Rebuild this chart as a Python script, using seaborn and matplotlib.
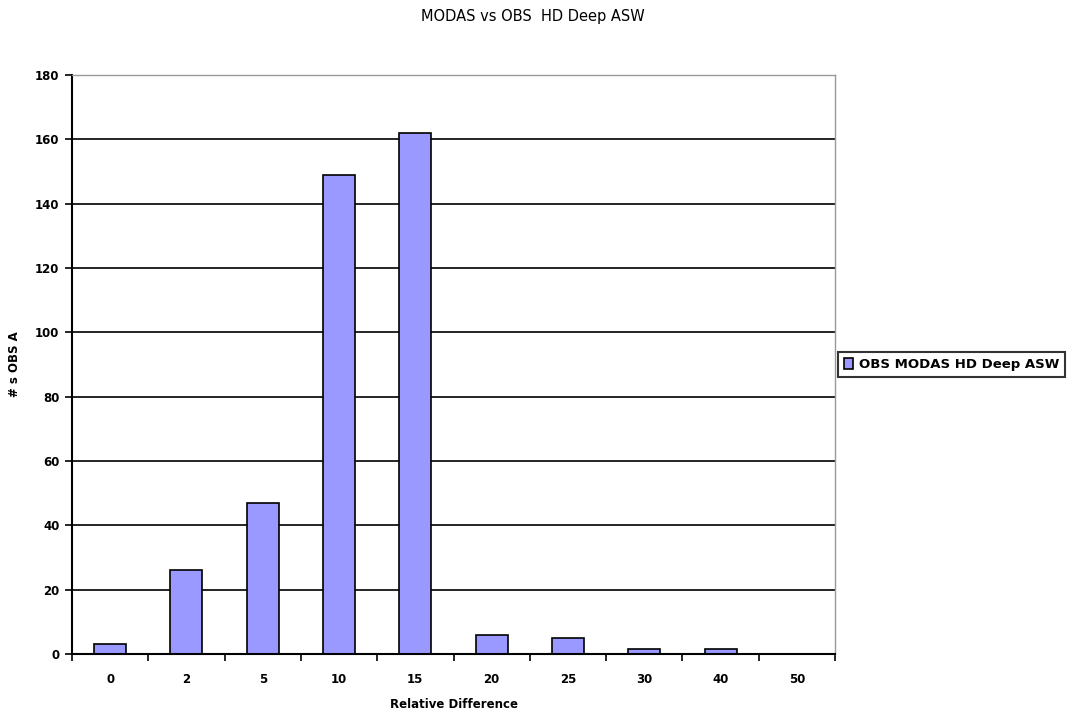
import matplotlib
matplotlib.use("Agg")
import matplotlib.pyplot as plt
import seaborn as sns
import pandas as pd
import numpy as np

categories = ["0", "2", "5", "10", "15", "20", "25", "30", "40", "50"]
counts = [3, 26, 47, 149, 162, 6, 5, 1.5, 1.5, 0]
series_name = "OBS MODAS HD Deep ASW"
yticks = [0, 20, 40, 60, 80, 100, 120, 140, 160, 180]

sns.set_theme(style="white")
plt.rcParams['font.family'] = ['DejaVu Sans']
plt.rcParams['text.color'] = 'black'
plt.rcParams['xtick.color'] = 'black'
plt.rcParams['ytick.color'] = 'black'
plt.rcParams['axes.labelcolor'] = 'black'

df = pd.DataFrame({"cat": categories, "count": counts, "series": series_name})

fig = plt.figure(figsize=(10.79, 7.17), dpi=100)
ax = fig.add_axes([72/1079, 63/717, (835-72)/1079, (654-75)/717])

sns.barplot(data=df, x="cat", y="count", hue="series", order=categories,
            palette=["#9999FF"], width=0.42, edgecolor="black", linewidth=1.2,
            saturation=1, ax=ax, legend=True)

ax.set_ylim(0, 180)
ax.set_xlim(-0.5, len(categories) - 0.5)
ax.set_yticks(yticks)
ax.set_yticklabels([str(v) for v in yticks], fontsize=8.5, fontweight="bold")
ax.set_xticks(range(len(categories)))
ax.set_xticklabels(categories, fontsize=8.5, fontweight="bold")
ax.set_xticks(np.arange(-0.5, len(categories), 1.0), minor=True)
ax.tick_params(axis="x", which="major", length=0, pad=14)
ax.tick_params(axis="x", which="minor", length=5, width=1.2, color="black", direction="out", bottom=True)
ax.tick_params(axis="y", which="major", length=5, width=1.2, color="black", direction="out", left=True, pad=4)

ax.yaxis.grid(True, color="black", linewidth=1.2)
ax.set_axisbelow(True)
for s in ["top", "right"]:
    ax.spines[s].set_color("#999999")
    ax.spines[s].set_linewidth(1)
for s in ["left", "bottom"]:
    ax.spines[s].set_color("black")
    ax.spines[s].set_linewidth(1.5)

ax.set_xlabel("Relative Difference", fontsize=8.5, fontweight="bold", labelpad=8)
ax.set_ylabel("# s OBS A", fontsize=8.5, fontweight="bold", labelpad=10)
fig.suptitle("MODAS vs OBS  HD Deep ASW", fontsize=10.5, x=533/1079, y=0.988, va="top")

leg = ax.legend(loc="center left", bbox_to_anchor=(1.004, 0.5), frameon=True,
                fancybox=False, edgecolor="black", fontsize=9.5,
                handlelength=0.7, handleheight=0.9, handletextpad=0.4,
                borderpad=0.45, borderaxespad=0)
leg.get_frame().set_linewidth(1.5)
for t in leg.get_texts():
    t.set_fontweight("bold")

fig.savefig("out.png", dpi=100, facecolor="white")
